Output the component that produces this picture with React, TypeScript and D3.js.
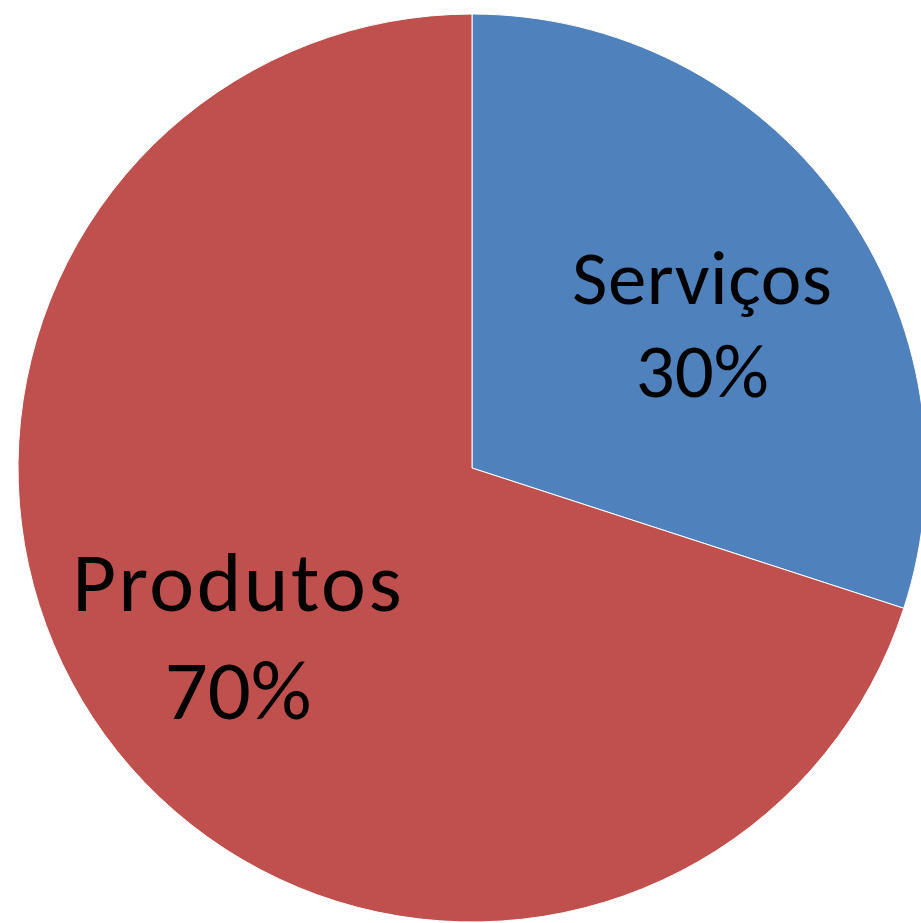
import React from "react";
import * as d3 from "d3";

const categories = ["Serviços", "Produtos"];
const values = [30, 70];
const colors = ["#4F81BD", "#C0504D"];

const W = 921;
const H = 923;

export default function App() {
  const cx = 472;
  const cy = 468;
  const R = 454;
  const pie = d3.pie<number>().sort(null).value((d) => d)(values);
  const arc = d3.arc<d3.PieArcDatum<number>>().innerRadius(0).outerRadius(R);
  const total = d3.sum(values);
  const fmt = (v: number) => `${Math.round((v / total) * 100)}%`;
  const labelR = [270, 288];
  const labelShift = [0.079, 0.005];
  const fontSizes = [77, 85];
  const spacing = [0.5, 2.5];
  const lineGap = [93, 108];
  return (
    <svg
      width={W}
      height={H}
      style={{ position: "absolute", left: 0, top: 0, background: "#fff" }}
      fontFamily="Carlito, 'Open Sans', 'Noto Sans', sans-serif"
    >
      <g transform={`translate(${cx},${cy})`}>
        {pie.map((p, i) => (
          <path key={i} d={arc(p) || ""} fill={colors[i]} stroke="#fff" strokeWidth={1} />
        ))}
        {pie.map((p, i) => {
          const a = (p.startAngle + p.endAngle) / 2 + labelShift[i];
          const x = Math.sin(a) * labelR[i];
          const y = -Math.cos(a) * labelR[i];
          const fs = fontSizes[i];
          const b1 = y - 0.3 * fs;
          return (
            <text key={i} textAnchor="middle" fontSize={fs} fill="#000" letterSpacing={spacing[i]}>
              <tspan x={x} y={b1}>{categories[i]}</tspan>
              <tspan x={x} y={b1 + lineGap[i]} letterSpacing={0}>{fmt(p.value)}</tspan>
            </text>
          );
        })}
      </g>
    </svg>
  );
}
